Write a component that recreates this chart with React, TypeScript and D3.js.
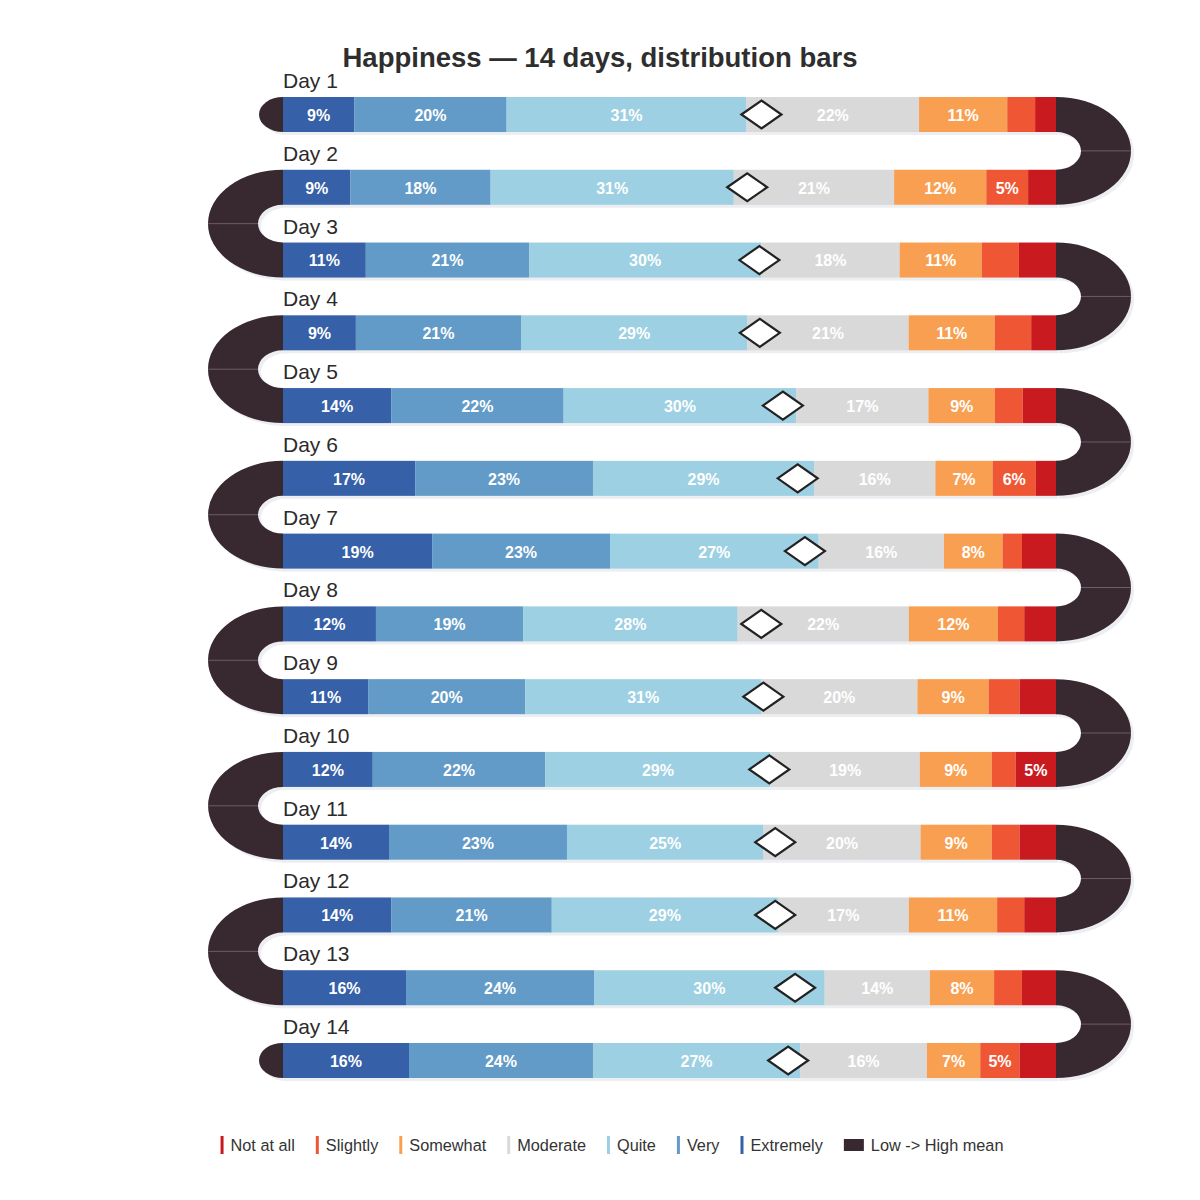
import React, { useEffect } from "react";
import * as d3 from "d3";

const days = ["Day 1","Day 2","Day 3","Day 4","Day 5","Day 6","Day 7","Day 8","Day 9","Day 10","Day 11","Day 12","Day 13","Day 14"];

// percentages per response level, one value per day
const extremely = [9.2, 8.7, 10.7, 9.4, 14.0, 17.1, 19.3, 12.0, 11.0, 11.6, 13.7, 14.0, 15.9, 16.3];
const very = [19.7, 18.1, 21.1, 21.3, 22.3, 23.0, 23.0, 19.0, 20.3, 22.3, 23.0, 20.7, 24.3, 23.8];
const quite = [31.0, 31.4, 30.0, 29.2, 30.1, 28.6, 27.0, 27.7, 30.5, 29.1, 25.4, 29.2, 29.8, 26.8];
const moderate = [22.3, 20.7, 17.9, 20.8, 17.1, 15.7, 16.2, 22.1, 20.2, 19.3, 20.3, 16.9, 13.6, 16.4];
const somewhat = [11.4, 11.9, 10.6, 11.1, 8.6, 7.4, 7.6, 11.5, 9.2, 9.3, 9.2, 11.4, 8.3, 6.9];
const slightly = [3.6, 5.4, 4.8, 4.7, 3.6, 5.6, 2.5, 3.4, 4.0, 3.1, 3.6, 3.5, 3.6, 5.1];
const notAtAll = [2.7, 3.6, 4.8, 3.2, 4.3, 2.6, 4.4, 4.1, 4.7, 5.2, 4.7, 4.1, 4.4, 4.7];

// drawing order left -> right
const levelNames = ["Extremely", "Very", "Quite", "Moderate", "Somewhat", "Slightly", "Not at all"];
const levelValues = [extremely, very, quite, moderate, somewhat, slightly, notAtAll];
const levelScores = [7, 6, 5, 4, 3, 2, 1];
const levelColors = ["#3660a7", "#629bc7", "#9dd0e2", "#d9d9d9", "#f99f52", "#ef5634", "#c91b1f"];

const legendNames = ["Not at all", "Slightly", "Somewhat", "Moderate", "Quite", "Very", "Extremely"];
const legendColors = ["#c91b1f", "#ef5634", "#f99f52", "#d9d9d9", "#9dd0e2", "#629bc7", "#3660a7"];
const meanLegendLabel = "Low -> High mean";

const title = "Happiness \u2014 14 days, distribution bars";

const FONT = "'Liberation Sans', Arial, Helvetica, sans-serif";
const CONNECTOR = "#382830";
const SEAM = "#6d5d66";
const SHADOW = "#eceef2";

function measure(text: string, font: string): number {
  const c = document.createElement("canvas");
  const ctx = c.getContext("2d");
  if (!ctx) return text.length * 8;
  ctx.font = font;
  return ctx.measureText(text).width;
}

export default function App() {
  useEffect(() => {
    document.body.style.margin = "0";
  }, []);

  const W = 1200, H = 1200;
  const x0 = 283, x1 = 1056;
  const y = d3.scaleBand<string>().domain(days).range([97, 1078]).paddingInner(0.519);
  const bh = y.bandwidth();
  const meanX = d3.scaleLinear().domain([1, 7]).range([x0, x1]);

  const rows = days.map((day, i) => {
    const vals = levelValues.map((arr) => arr[i]);
    const total = d3.sum(vals);
    const xs = d3.scaleLinear().domain([0, total]).range([x0, x1]);
    const cum = d3.cumsum(vals);
    const segs = vals.map((v, k) => ({
      v,
      k,
      a: xs(k === 0 ? 0 : cum[k - 1]),
      b: xs(cum[k]),
    }));
    const mean = d3.sum(vals.map((v, k) => v * levelScores[k])) / total;
    return { day, i, top: y(day) as number, segs, mean };
  });

  const ORX = 75, IRX = 25, CAPRX = 24;

  function connectorPath(a: number, side: "right" | "left") {
    const topA = rows[a].top, botA = topA + bh;
    const topB = rows[a + 1].top, botB = topB + bh;
    const ory = (botB - topA) / 2;
    const iry = (topB - botA) / 2;
    const xe = side === "right" ? x1 : x0;
    const s1 = side === "right" ? 1 : 0;
    const s2 = side === "right" ? 0 : 1;
    return `M${xe},${topA} A${ORX},${ory} 0 0 ${s1} ${xe},${botB} L${xe},${topB} A${IRX},${iry} 0 0 ${s2} ${xe},${botA} Z`;
  }
  function capPath(r: number) {
    const t = rows[r].top;
    return `M${x0},${t} A${CAPRX},${bh / 2} 0 0 0 ${x0},${t + bh} Z`;
  }

  const connectors: { path: string; mid: number; side: "right" | "left" }[] = [];
  for (let a = 0; a < rows.length - 1; a++) {
    const side = a % 2 === 0 ? "right" : "left";
    const mid = (rows[a].top + rows[a + 1].top + bh) / 2;
    connectors.push({ path: connectorPath(a, side), mid, side });
  }
  const caps = [capPath(0), capPath(rows.length - 1)];

  // legend layout
  const LFS = 16.3;
  const legendFont = `${LFS}px ${FONT}`;
  const items = legendNames.map((n, k) => ({ name: n, color: legendColors[k], mw: 3, tw: measure(n, legendFont), square: false }));
  items.push({ name: meanLegendLabel, color: CONNECTOR, mw: 20, tw: measure(meanLegendLabel, legendFont), square: true });
  const gapMarker = 7, gapItem = 21;
  let lx = 0;
  const placed = items.map((it) => {
    const p = { ...it, x: lx };
    lx += it.mw + gapMarker + it.tw + gapItem;
    return p;
  });
  const legendW = lx - gapItem;
  const legendStart = 612 - legendW / 2;
  const ly = 1145;

  return (
    <svg width={W} height={H} viewBox={`0 0 ${W} ${H}`} style={{ display: "block", background: "#fff" }} fontFamily={FONT}>
      <rect x={0} y={0} width={W} height={H} fill="#fff" />
      <text x={600} y={67} textAnchor="middle" fontSize={27.5} fontWeight="bold" fill="#2e2e2e">{title}</text>

      {/* shadows */}
      <g fill={SHADOW}>
        {connectors.map((c, k) => (
          <path key={"cs" + k} d={c.path} transform="translate(3,3)" />
        ))}
        {caps.map((c, k) => (
          <path key={"ps" + k} d={c} transform="translate(3,3)" />
        ))}
        {rows.map((r) => (
          <rect key={"bs" + r.i} x={x0} y={r.top + 3} width={x1 - x0 + 2} height={bh} />
        ))}
      </g>

      {/* connectors */}
      {connectors.map((c, k) => (
        <g key={"c" + k}>
          <path d={c.path} fill={CONNECTOR} />
          <line
            x1={c.side === "right" ? x1 + IRX : x0 - IRX}
            x2={c.side === "right" ? x1 + ORX : x0 - ORX}
            y1={c.mid}
            y2={c.mid}
            stroke={SEAM}
            strokeWidth={1}
          />
        </g>
      ))}
      {caps.map((c, k) => (
        <path key={"p" + k} d={c} fill={CONNECTOR} />
      ))}

      {/* bars */}
      {rows.map((r) => (
        <g key={"r" + r.i}>
          <text x={x0} y={r.top - 9} fontSize={21} fill="#2b2b2b">{r.day}</text>
          {r.segs.map((s) => (
            <rect key={s.k} x={s.a} y={r.top} width={Math.max(0, s.b - s.a)} height={bh} fill={levelColors[s.k]} />
          ))}
          {r.segs.filter((s) => s.v >= 5).map((s) => (
            <text
              key={"t" + s.k}
              x={(s.a + s.b) / 2}
              y={r.top + bh / 2}
              dy="0.4em"
              textAnchor="middle"
              fontSize={16}
              fontWeight="bold"
              fill="#ffffff"
            >
              {`${Math.round(s.v)}%`}
            </text>
          ))}
          <path
            d={`M${meanX(r.mean) - 20},${r.top + bh / 2} L${meanX(r.mean)},${r.top + bh / 2 - 14} L${meanX(r.mean) + 20},${r.top + bh / 2} L${meanX(r.mean)},${r.top + bh / 2 + 14} Z`}
            fill="#ffffff"
            stroke="#222222"
            strokeWidth={2.2}
            strokeLinejoin="miter"
          />
        </g>
      ))}

      {/* legend */}
      <g transform={`translate(${legendStart},0)`}>
        {placed.map((p, k) => (
          <g key={"l" + k}>
            {p.square ? (
              <rect x={p.x} y={ly - 6} width={20} height={12} fill={p.color} />
            ) : (
              <rect x={p.x} y={ly - 9} width={3} height={18} fill={p.color} />
            )}
            <text x={p.x + p.mw + gapMarker} y={ly + 6} fontSize={LFS} fill="#333">{p.name}</text>
          </g>
        ))}
      </g>
    </svg>
  );
}
